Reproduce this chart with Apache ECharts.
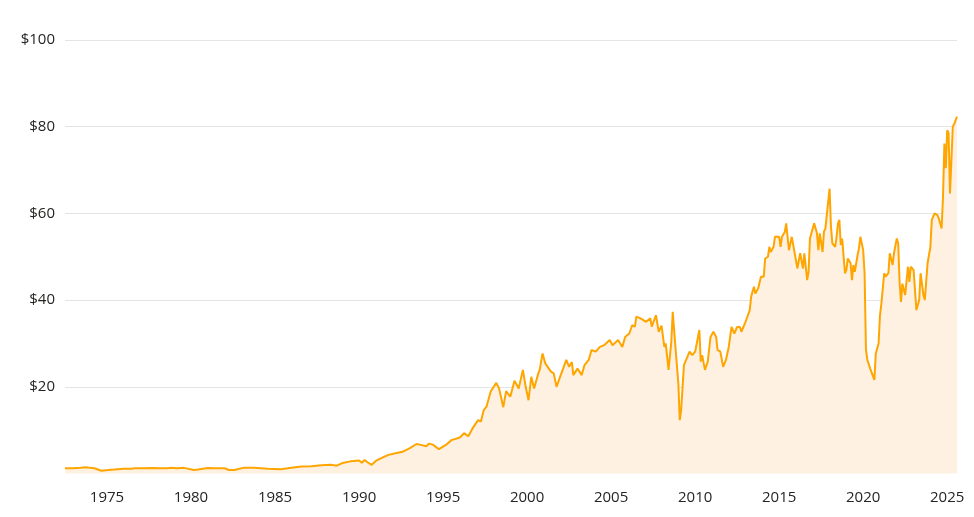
<!DOCTYPE html>
<html>
<head>
<meta charset="utf-8">
<script src="https://cdn.jsdelivr.net/npm/echarts@6/dist/echarts.min.js"></script>
<style>
html,body{margin:0;padding:0;background:#fff;}
#chart{width:974px;height:517px;}
</style>
</head>
<body>
<div id="chart"></div>
<script>
// Month of each reading (YYYY-MM)
const months = [
"1972-07","1973-01","1973-06","1973-10","1974-01","1974-04","1974-09","1975-02","1975-06","1976-01",
"1976-06","1976-09","1977-03","1977-09","1978-03","1978-08","1978-10","1979-03","1979-08","1980-03",
"1980-06","1981-01","1981-06","1982-01","1982-04","1982-08","1983-03","1983-10","1984-03","1984-08",
"1985-05","1985-10","1986-02","1986-08","1987-03","1987-10","1988-05","1988-09","1989-01","1989-07",
"1990-01","1990-03","1990-05","1990-07","1990-10","1991-01","1991-06","1991-10","1992-03","1992-08",
"1993-01","1993-06","1993-09","1994-01","1994-03","1994-06","1994-10","1995-03","1995-07","1996-01",
"1996-04","1996-07","1996-10","1997-02","1997-04","1997-06","1997-08","1997-11","1998-03","1998-05",
"1998-08","1998-10","1999-01","1999-04","1999-07","1999-10","1999-12","2000-02","2000-04","2000-06",
"2000-09","2000-10","2000-12","2001-02","2001-06","2001-08","2001-10","2002-01","2002-05","2002-07",
"2002-09","2002-10","2003-01","2003-04","2003-06","2003-09","2003-11","2004-02","2004-05","2004-08",
"2004-12","2005-02","2005-06","2005-09","2005-11","2006-02","2006-04","2006-06","2006-07","2006-10",
"2007-02","2007-05","2007-06","2007-09","2007-11","2008-01","2008-03","2008-04","2008-06","2008-08",
"2008-09","2008-11","2009-01","2009-02","2009-03","2009-05","2009-06","2009-09","2009-11","2010-01",
"2010-04","2010-05","2010-06","2010-08","2010-10","2010-12","2011-02","2011-04","2011-05","2011-07",
"2011-09","2011-11","2012-01","2012-03","2012-05","2012-07","2012-09","2012-10","2013-01","2013-04",
"2013-05","2013-07","2013-08","2013-10","2013-12","2014-02","2014-03","2014-05","2014-06","2014-07",
"2014-09","2014-10","2015-01","2015-02","2015-03","2015-05","2015-06","2015-08","2015-10","2016-01",
"2016-02","2016-04","2016-06","2016-07","2016-09","2016-10","2016-11","2017-02","2017-04","2017-05",
"2017-06","2017-08","2017-09","2017-10","2018-01","2018-02","2018-03","2018-05","2018-06","2018-07",
"2018-08","2018-09","2018-10","2018-12","2019-01","2019-02","2019-04","2019-05","2019-06","2019-07",
"2019-09","2019-10","2019-11","2020-01","2020-02","2020-03","2020-04","2020-06","2020-07","2020-09",
"2020-10","2020-12","2021-01","2021-02","2021-04","2021-05","2021-07","2021-08","2021-10","2021-11",
"2022-01","2022-02","2022-03","2022-04","2022-05","2022-07","2022-09","2022-10","2022-11","2023-01",
"2023-03","2023-05","2023-06","2023-08","2023-09","2023-11","2024-01","2024-02","2024-04","2024-06",
"2024-07","2024-09","2024-10","2024-11","2024-12","2025-01","2025-02","2025-03","2025-05","2025-06",
"2025-08"
];
// Price in dollars at each month
const prices = [
1.2,1.2,1.3,1.45,1.3,1.2,0.65,0.8,0.9,1.1,
1.1,1.2,1.2,1.25,1.2,1.2,1.3,1.2,1.3,0.8,
0.9,1.25,1.2,1.2,0.8,0.8,1.35,1.3,1.2,1.1,
1.0,1.2,1.4,1.6,1.7,1.9,2.0,1.8,2.4,2.8,
3.0,2.5,3.1,2.6,2.0,2.9,3.7,4.3,4.65,5.0,
5.8,6.8,6.6,6.3,6.9,6.6,5.6,6.6,7.7,8.3,
9.3,8.6,10.4,12.3,12.0,14.6,15.4,18.9,20.9,19.6,
15.3,19.0,17.7,21.4,19.6,23.9,20.0,16.9,22.3,19.6,
23.1,23.9,27.7,25.4,23.5,23.1,20.0,22.7,26.2,24.6,
25.7,22.7,24.2,22.7,25.0,26.2,28.5,28.1,29.2,29.6,
30.8,29.6,30.8,29.2,31.5,32.3,34.2,33.9,36.2,35.8,
35.0,35.8,33.9,36.5,32.7,34.1,29.2,30.0,23.9,30.4,
37.3,28.9,20.8,12.3,14.6,25.0,24.6,28.1,27.3,28.1,
33.1,25.8,27.3,23.9,25.8,31.5,32.7,31.5,28.5,28.1,
24.6,26.2,29.2,33.8,32.3,33.8,33.8,32.7,35.0,37.7,
40.8,43.1,41.5,42.7,45.4,45.4,49.6,50.0,52.3,51.1,
52.3,54.6,54.6,52.3,54.6,55.7,57.7,51.5,54.6,49.2,
47.3,50.8,47.3,50.8,44.6,46.5,54.2,57.7,55.4,51.5,
55.4,51.1,55.8,56.5,65.7,56.9,53.1,52.3,54.6,57.7,
58.5,52.7,54.2,46.2,46.9,49.6,48.5,44.6,48.1,46.5,
50.4,52.0,54.6,51.5,46.2,28.5,26.2,24.2,23.9,21.6,
27.7,30.0,36.5,39.2,46.2,45.4,46.2,50.8,48.1,50.8,
54.2,53.1,44.2,39.6,43.8,41.2,47.7,44.2,47.7,46.9,
37.7,40.0,46.2,41.2,40.0,48.5,52.3,58.5,60.0,59.6,
58.8,56.5,63.8,76.1,70.4,79.2,78.5,64.6,80.0,80.6,
82.3
];
const labelYears = [1975,1980,1985,1990,1995,2000,2005,2010,2015,2020,2025];
const yTicks = [0,20,40,60,80,100];

// month string -> fractional year on a numeric axis
function fy(s){const p=s.split('-');return +p[0] + (+p[1]-1)/12;}
const seriesData = months.map((m,i)=>[fy(m), prices[i]]);

const chart = echarts.init(document.getElementById('chart'), null, {renderer:'canvas'});
const fontFamily = '"Open Sans", "Noto Sans", sans-serif';
chart.setOption({
  animation:false,
  backgroundColor:'#ffffff',
  grid:{left:65, right:17, top:40, bottom:43.5, containLabel:false},
  xAxis:{
    type:'value',
    min: fy(months[0]),
    max: fy(months[months.length-1]),
    axisLine:{show:false},
    axisTick:{show:false},
    splitLine:{show:false},
    axisLabel:{
      customValues: labelYears,
      formatter: v => String(Math.round(v)),
      color:'#252423', fontSize:15, fontFamily, margin:17,
      hideOverlap:false
    }
  },
  yAxis:{
    type:'value',
    min:yTicks[0], max:yTicks[yTicks.length-1], interval:20,
    axisLine:{show:false},
    axisTick:{show:false},
    axisLabel:{
      formatter: v => v===0 ? '' : '$'+v,
      color:'#252423', fontSize:15, fontFamily, margin:10
    },
    splitLine:{lineStyle:{color:['rgba(0,0,0,0)','#e4e4e4','#e4e4e4','#e4e4e4','#e4e4e4','#e4e4e4'], width:1}}
  },
  series:[{
    type:'line',
    data:seriesData,
    symbol:'none',
    smooth:false,
    lineStyle:{color:'#FFA500', width:2},
    itemStyle:{color:'#FFA500'},
    areaStyle:{color:'#FEF1E2', opacity:1}
  }]
});
</script>
</body>
</html>
